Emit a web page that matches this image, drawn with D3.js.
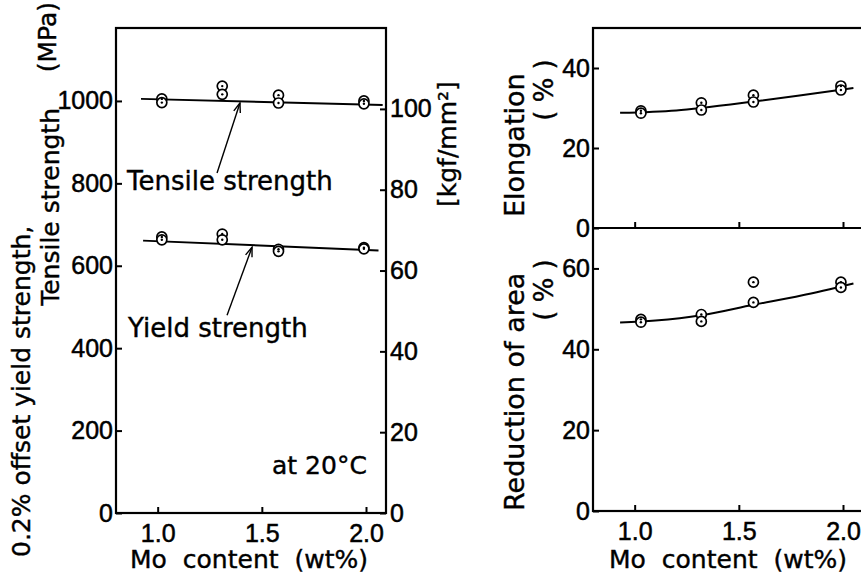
<!DOCTYPE html>
<html lang="en">
<head>
<meta charset="utf-8">
<title>Mo content vs strength</title>
<script src="https://d3js.org/d3.v7.min.js"></script>
<style>
  body { margin: 0; background: #fff; }
  svg { display: block; }
  .tick text { font-family: "Liberation Sans", Arial, sans-serif; font-size: 25px; fill: #000; stroke: #000; stroke-width: 0.5px; }
  .tick line { stroke: #000; stroke-width: 2; }
  .lbl { font-family: "DejaVu Sans", sans-serif; font-size: 25px; fill: #000; stroke: #000; stroke-width: 0.4px; }
  .frame { stroke: #000; stroke-width: 2.2; fill: none; }
</style>
</head>
<body>
<div id="chart"></div>
<script>
// Mo content (wt%) of the four steels, two specimens each
var moLeft = [1.02, 1.02, 1.31, 1.31, 1.58, 1.58, 1.99, 1.99];
var tensile = [1005, 996, 1036, 1016, 1014, 995, 1000, 993];
var yieldS = [670, 663, 677, 663, 640, 635, 644, 641];
var tensileFitX = [0.92, 2.08];
var tensileFitY = [1005, 990];
var yieldFitX = [0.93, 2.06];
var yieldFitY = [661, 637];

var moRight = [1.03, 1.03, 1.32, 1.32, 1.57, 1.57, 1.99, 1.99];
var elong = [29.3, 28.7, 31.3, 29.5, 33.2, 31.5, 35.5, 34.5];
var elongFitX = [0.93, 1.2, 1.32, 1.57, 1.8, 2.05];
var elongFitY = [28.8, 29.4, 30.0, 31.6, 33.2, 35.0];
var redArea = [47.4, 46.7, 48.6, 46.9, 56.6, 51.6, 56.6, 55.3];
var redFitX = [0.93, 1.1, 1.32, 1.57, 1.8, 2.05];
var redFitY = [46.6, 47.1, 48.4, 51.0, 53.3, 56.3];

// tick labels
var moTicks = [1.0, 1.5, 2.0];
var mpaTicks = [0, 200, 400, 600, 800, 1000];
var kgfTicks = [0, 20, 40, 60, 80, 100];
var elongTicks = [0, 20, 40];
var redTicks = [0, 20, 40, 60];

var w = 861, h = 576;
var svg = d3.select("#chart").append("svg").attr("width", w).attr("height", h);

// ---- left panel scales
var xL = d3.scaleLinear().domain([0.8, 2.096]).range([116, 386]);
var yL = d3.scaleLinear().domain([0, 1177]).range([513, 28]);
var yK = d3.scaleLinear().domain([0, 1177 / 9.80665]).range([513, 28]);

// ---- right panel scales
var xR = d3.scaleLinear().domain([0.8, 2.096]).range([593, 863]);
var yE = d3.scaleLinear().domain([0, 50]).range([228, 28]);
var yR = d3.scaleLinear().domain([0, 70]).range([511, 228]);

function cleanAxis(g) {
    g.select(".domain").remove();
}

// left axes
svg.append("g").attr("transform", "translate(116,0)")
    .call(d3.axisLeft(yL).tickValues(mpaTicks).tickSize(-6).tickPadding(3).tickFormat(d3.format("d")))
    .call(cleanAxis);
svg.append("g").attr("transform", "translate(386,0)")
    .call(d3.axisRight(yK).tickValues(kgfTicks).tickSize(-6).tickPadding(4).tickFormat(d3.format("d")))
    .call(cleanAxis);
svg.append("g").attr("transform", "translate(0,513)")
    .call(d3.axisBottom(xL).tickValues(moTicks).tickSize(-6).tickPadding(11).tickFormat(d3.format(".1f")))
    .call(cleanAxis);

// right axes
svg.append("g").attr("transform", "translate(593,0)")
    .call(d3.axisLeft(yE).tickValues(elongTicks).tickSize(-6).tickPadding(3).tickFormat(d3.format("d")))
    .call(cleanAxis);
svg.append("g").attr("transform", "translate(593,0)")
    .call(d3.axisLeft(yR).tickValues(redTicks).tickSize(-6).tickPadding(3).tickFormat(d3.format("d")))
    .call(cleanAxis);
svg.append("g").attr("transform", "translate(0,228)")
    .call(d3.axisBottom(xR).tickValues(moTicks).tickSize(-6).tickFormat(""))
    .call(cleanAxis);
svg.append("g").attr("transform", "translate(0,511)")
    .call(d3.axisBottom(xR).tickValues(moTicks).tickSize(-6).tickPadding(11).tickFormat(d3.format(".1f")))
    .call(cleanAxis);

// frames
svg.append("rect").attr("class", "frame")
    .attr("x", xL.range()[0]).attr("y", yL.range()[1])
    .attr("width", xL.range()[1] - xL.range()[0]).attr("height", yL.range()[0] - yL.range()[1]);
svg.append("rect").attr("class", "frame")
    .attr("x", xR.range()[0]).attr("y", yE.range()[1])
    .attr("width", 300).attr("height", yR.range()[0] - yE.range()[1]);
svg.append("line").attr("class", "frame")
    .attr("x1", xR.range()[0]).attr("x2", w + 5)
    .attr("y1", yE(0)).attr("y2", yE(0));

// fitted curves
function drawFit(xs, ys, xScale, yScale, curve) {
    var pts = xs.map(function (d, i) { return [d, ys[i]]; });
    var line = d3.line()
        .x(function (d) { return xScale(d[0]); })
        .y(function (d) { return yScale(d[1]); })
        .curve(curve || d3.curveLinear);
    svg.append("path").datum(pts)
        .attr("d", line)
        .attr("fill", "none")
        .attr("stroke", "#000")
        .attr("stroke-width", 2);
}
drawFit(tensileFitX, tensileFitY, xL, yL);
drawFit(yieldFitX, yieldFitY, xL, yL);
drawFit(elongFitX, elongFitY, xR, yE, d3.curveMonotoneX);
drawFit(redFitX, redFitY, xR, yR, d3.curveMonotoneX);

// dotted-circle markers
function drawPoints(xs, ys, xScale, yScale) {
    var g = svg.append("g");
    var pts = xs.map(function (d, i) { return [d, ys[i]]; });
    g.selectAll("circle.m").data(pts).enter().append("circle")
        .attr("class", "m")
        .attr("cx", function (d) { return xScale(d[0]); })
        .attr("cy", function (d) { return yScale(d[1]); })
        .attr("r", 5)
        .attr("fill", "#fff")
        .attr("stroke", "#000")
        .attr("stroke-width", 1.7);
    g.selectAll("circle.c").data(pts).enter().append("circle")
        .attr("class", "c")
        .attr("cx", function (d) { return xScale(d[0]); })
        .attr("cy", function (d) { return yScale(d[1]); })
        .attr("r", 1.2)
        .attr("fill", "#000");
}
drawPoints(moLeft, tensile, xL, yL);
drawPoints(moLeft, yieldS, xL, yL);
drawPoints(moRight, elong, xR, yE);
drawPoints(moRight, redArea, xR, yR);

// arrows for the curve labels
function arrow(x0, y0, x1, y1) {
    var ax = xL(x0), ay = yL(y0), bx = xL(x1), by = yL(y1);
    svg.append("line").attr("x1", ax).attr("y1", ay).attr("x2", bx).attr("y2", by)
        .attr("stroke", "#000").attr("stroke-width", 1.4);
    var ang = Math.atan2(by - ay, bx - ax);
    var len = 10, spread = 0.35;
    var head = [
        [bx - len * Math.cos(ang - spread), by - len * Math.sin(ang - spread)],
        [bx, by],
        [bx - len * Math.cos(ang + spread), by - len * Math.sin(ang + spread)]
    ];
    svg.append("path").attr("d", d3.line()(head))
        .attr("fill", "none").attr("stroke", "#000").attr("stroke-width", 1.4);
}
arrow(1.285, 825, 1.395, 995);
arrow(1.333, 480, 1.453, 645);

// in-plot labels
svg.append("text").attr("class", "lbl").attr("x", xL(0.853)).attr("y", yL(784))
    .style("font-size", "26px").text("Tensile strength");
svg.append("text").attr("class", "lbl").attr("x", xL(0.858)).attr("y", yL(427))
    .style("font-size", "26px").text("Yield strength");
svg.append("text").attr("class", "lbl").attr("x", xL(1.549)).attr("y", yL(95)).text("at 20°C");

// x titles
svg.append("text").attr("class", "lbl").attr("x", 249).attr("y", 568)
    .attr("text-anchor", "middle").style("word-spacing", "8px").text("Mo content (wt%)");
svg.append("text").attr("class", "lbl").attr("x", 728).attr("y", 568)
    .attr("text-anchor", "middle").style("word-spacing", "8px").text("Mo content (wt%)");

// rotated y titles
function vtext(x, y, txt, anchor, size) {
    svg.append("text").attr("class", "lbl")
        .attr("transform", "translate(" + x + "," + y + ") rotate(-90)")
        .attr("text-anchor", anchor || "start")
        .style("font-size", (size || 25) + "px")
        .text(txt);
}
vtext(30, 557, "0.2% offset yield strength,");
vtext(59, 108, "Tensile strength", "end");
vtext(56, 2, "(MPa)", "end");
vtext(456, 207, "[kgf/mm²]");
vtext(524, 217, "Elongation", "start", 27);
vtext(553, 90, "( % )", "middle", 26);
vtext(524, 511, "Reduction of area", "start", 27);
vtext(553, 290, "( % )", "middle", 26);
</script>
</body>
</html>
